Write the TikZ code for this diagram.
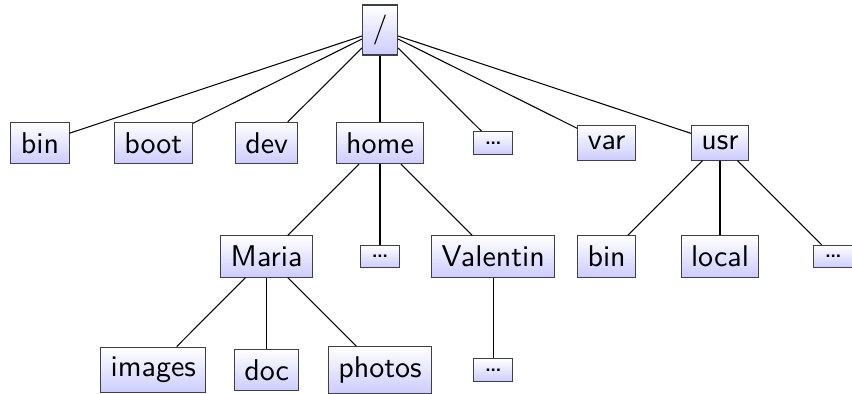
\documentclass[tikz,border=0pt]{standalone}
\begin{document}
\begin{tikzpicture}[x=0.3333pt,y=-0.3333pt,
  box/.style={draw=black!75, line width=0.35pt, top color=white, bottom color=blue!20, font=\sffamily},
  link/.style={line width=0.35pt}]
\useasboundingbox (0,0) rectangle (852,393);
\clip (0,0) rectangle (852,393);
% level 0
\node[box] (root) at (380,30) {/};
% level 1
\node[box] (bin)  at (40,143) {bin};
\node[box] (boot) at (153.3,143) {boot};
\node[box] (dev)  at (266.6,143) {dev};
\node[box] (home) at (380,143) {home};
\node[box] (d1)   at (493.3,143) {\dots};
\node[box] (var)  at (606.6,143) {var};
\node[box] (usr)  at (720,143) {usr};
% level 2
\node[box] (maria) at (266.6,256.5) {Maria};
\node[box] (d2)    at (380,256.5) {\dots};
\node[box] (val)   at (493.3,256.5) {Valentin};
\node[box] (ubin)  at (606.6,256.5) {bin};
\node[box] (local) at (720,256.5) {local};
\node[box] (d3)    at (833.3,256.5) {\dots};
% level 3
\node[box] (images) at (153.3,370) {images};
\node[box] (doc)    at (266.6,370) {doc};
\node[box] (photos) at (380,370) {photos};
\node[box] (d4)     at (493.3,370) {\dots};
% connectors
\foreach \c in {bin,boot,dev,home,d1,var,usr}
  \draw[link] (root) -- (\c);
\foreach \c in {maria,d2,val}
  \draw[link] (home) -- (\c);
\foreach \c in {ubin,local,d3}
  \draw[link] (usr) -- (\c);
\foreach \c in {images,doc,photos}
  \draw[link] (maria) -- (\c);
\draw[link] (val) -- (d4);
\end{tikzpicture}
\end{document}
